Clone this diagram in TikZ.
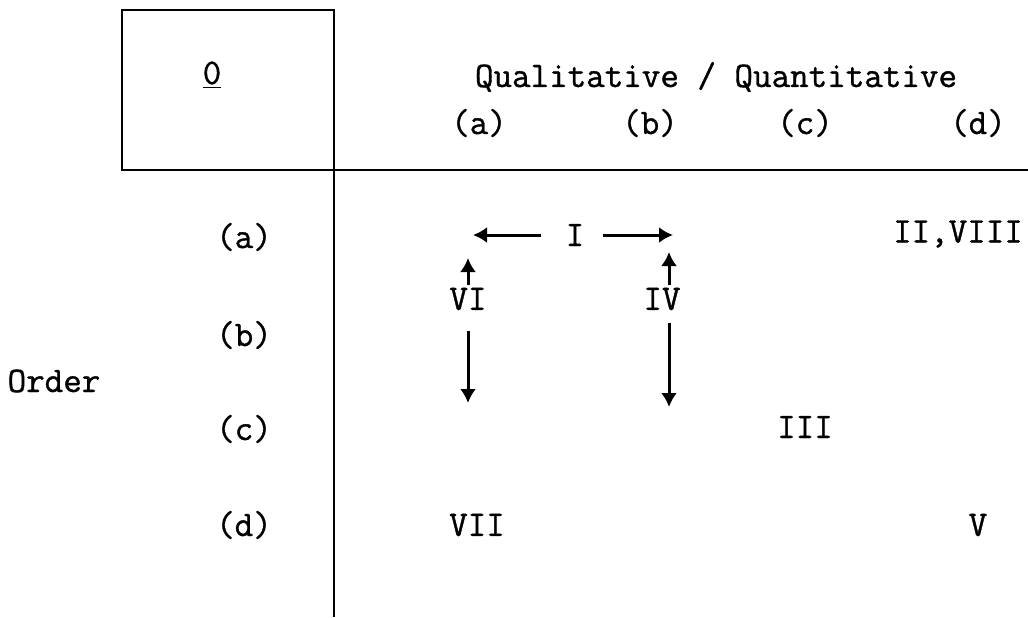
\documentclass[tikz,border=0pt]{standalone}
\usepackage{fontspec}
\usepackage{tikz}
\usetikzlibrary{arrows.meta}

\newfontfamily\typewriter{Latin Modern Mono}[FakeBold=1]

\begin{document}
\begin{tikzpicture}[x=0.5pt,y=-0.5pt,
  lbl/.style={font=\fontsize{18}{20}\typewriter, inner sep=1pt},
  rule/.style={line width=1.2pt},
  arr/.style={-{Latex[length=7pt,width=8pt]}, line width=1.5pt}]

% --- Page ---
\useasboundingbox (0,0) rectangle (1028,617);

% --- Frame ---
\draw[rule] (335,10) -- (122,10) -- (122,170) -- (1028,170);
\draw[rule] (334,10) -- (334,617);

% --- Corner ---
\node[lbl] (zero) at (212,75) {\underline{0}};

% --- Column heads ---
\node[lbl] (qq) at (716,77) {Qualitative / Quantitative};
\node[lbl] (cola) at (479,123) {(a)};
\node[lbl] (colb) at (650,123) {(b)};
\node[lbl] (colc) at (805,123) {(c)};
\node[lbl] (cold) at (978,123) {(d)};

% --- Row heads ---
\node[lbl] (order) at (54,381) {Order};
\node[lbl] (rowa) at (244,237) {(a)};
\node[lbl] (rowb) at (244,335) {(b)};
\node[lbl] (rowc) at (244,429) {(c)};
\node[lbl] (rowd) at (244,525) {(d)};

% --- Entries ---
\node[lbl] (i) at (575,235) {I};
\node[lbl] (iiviii) at (958,234) {II,VIII};
\node[lbl] (vi) at (468,299) {VI};
\node[lbl] (iv) at (662,299) {IV};
\node[lbl] (iii) at (805,427) {III};
\node[lbl] (vii) at (477,525) {VII};
\node[lbl] (v) at (978,525) {V};

% --- Arrow ends ---
\coordinate (lefttip) at (473,235);
\coordinate (righttip) at (673,235);
\coordinate (viup) at (468,258);
\coordinate (vidown) at (468,403);
\coordinate (ivup) at (669,252);
\coordinate (ivdown) at (669,407);

% --- Arrows ---
\draw[arr, shorten <=11pt] (i.west) -- (lefttip);
\draw[arr, shorten <=8pt] (i.east) -- (righttip);
\draw[arr] (vi.north) -- (viup);
\draw[arr, shorten <=9pt] (vi.south) -- (vidown);
\draw[arr] (iv.north -| ivup) -- (ivup);
\draw[arr, shorten <=5pt] (iv.south -| ivdown) -- (ivdown);

\end{tikzpicture}
\end{document}
